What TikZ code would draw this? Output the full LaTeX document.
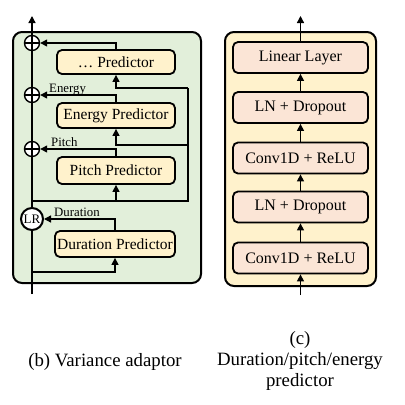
\documentclass[tikz,border=0pt]{standalone}
\usepackage{fontspec}
\setmainfont{Liberation Serif}
\usetikzlibrary{arrows.meta}
\definecolor{adaptfill}{HTML}{E2EFDA}
\definecolor{predfill}{HTML}{FFF2CC}
\definecolor{layerfill}{HTML}{FBE5D6}
\begin{document}
\begin{tikzpicture}[x=1pt,y=-1pt,
  panel/.style={draw, line width=2pt, rounded corners=9pt},
  predbox/.style={draw, line width=1.8pt, rounded corners=5pt, fill=predfill,
    minimum width=118pt, inner sep=0pt, font=\fontsize{15.5}{18}\selectfont},
  layerbox/.style={draw, line width=1.8pt, rounded corners=5pt, fill=layerfill,
    minimum width=135pt, minimum height=31pt, inner sep=0pt, font=\fontsize{16}{19}\selectfont},
  conn/.style={line width=1.3pt},
  arr/.style={conn, -{Triangle[length=7pt,width=7pt]}},
  sumnode/.style={circle, draw, line width=1.4pt, fill=white, minimum size=15pt, inner sep=0pt,
    path picture={\draw[line width=1.3pt] (path picture bounding box.west) -- (path picture bounding box.east)
      (path picture bounding box.north) -- (path picture bounding box.south);}},
  lrnode/.style={circle, draw, line width=2pt, fill=white, minimum size=22pt, inner sep=0pt,
    font=\fontsize{13}{15}\selectfont},
  lbl/.style={anchor=base west, inner sep=0pt, font=\fontsize{12.8}{15}\selectfont},
  caption/.style={anchor=base, align=center, inner sep=0pt, font=\fontsize{18.8}{21}\selectfont}
]
\useasboundingbox (0,0) rectangle (405,405);

% ---- variance adaptor ----
\draw[panel, fill=adaptfill] (13,32) rectangle (201,283);

\coordinate (vin) at (32,294);
\coordinate (vout) at (32,16);
\draw[arr] (vin) -- (vout);

\node[predbox, minimum height=24pt] (dots) at (116,62) {… Predictor};
\node[predbox, minimum height=25pt] (energy) at (116,115.5) {Energy Predictor};
\node[predbox, minimum height=27pt] (pitch) at (116,170.5) {Pitch Predictor};
\node[predbox, minimum height=26pt, minimum width=120pt] (dur) at (115,244) {Duration Predictor};

\node[sumnode] (s3) at (32,43) {};
\node[sumnode] (s2) at (32,95) {};
\node[sumnode] (s1) at (32,149) {};
\node[lrnode] (lr) at (32,219) {LR};

% duration branch
\coordinate (durtap) at (32,272);
\draw[arr] (durtap) -| (dur.south);
\draw[arr] (dur.north) |- (lr.east);

% pitch / energy / further predictors fed from the shared rail
\coordinate (ptap) at (32,201);
\coordinate (railbot) at (188,201);
\coordinate (railmid) at (188,145);
\coordinate (railtop) at (188,88);
\draw[conn] (ptap) -- (railbot) -- (railtop);
\draw[arr] (pitch.south |- ptap) -- (pitch.south);
\draw[arr] (railmid) -| (energy.south);
\draw[arr] (railtop) -| (dots.south);

\draw[arr] (pitch.north) |- (s1.east);
\draw[arr] (energy.north) |- (s2.east);
\draw[arr] (dots.north) |- (s3.east);

\node[lbl] at (49,92.5) {Energy};
\node[lbl] at (51,146.5) {Pitch};
\node[lbl] at (54,216.5) {Duration};

% ---- predictor ----
\draw[panel, fill=predfill] (225,32) rectangle (376,286);

\coordinate (pin) at (300.5,295);
\coordinate (pout) at (300.5,16);
\node[layerbox] (conva) at (300.5,258) {Conv1D + ReLU};
\node[layerbox] (lna) at (300.5,207) {LN + Dropout};
\node[layerbox] (convb) at (300.5,158) {Conv1D + ReLU};
\node[layerbox] (lnb) at (300.5,107.5) {LN + Dropout};
\node[layerbox] (lin) at (300.5,57.5) {Linear Layer};

\draw[arr] (pin) -- (conva);
\draw[arr] (conva) -- (lna);
\draw[arr] (lna) -- (convb);
\draw[arr] (convb) -- (lnb);
\draw[arr] (lnb) -- (lin);
\draw[arr] (lin) -- (pout);

% ---- captions ----
\node[caption] (capb) at (105,366) {(b) Variance adaptor};
\node[caption] (capc) at (300,386) {(c)\\Duration/pitch/energy\\predictor};
\end{tikzpicture}
\end{document}
